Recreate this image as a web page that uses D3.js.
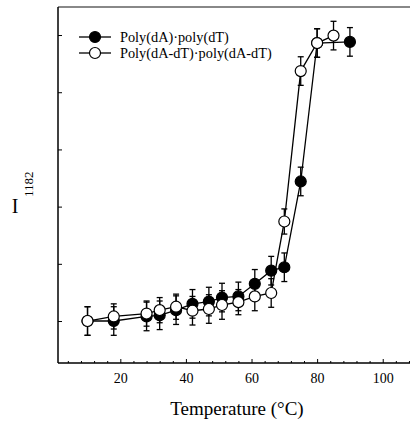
<!DOCTYPE html>
<html>
<head>
<meta charset="utf-8">
<script src="https://cdn.jsdelivr.net/npm/d3@7"></script>
<style>
  body { margin: 0; background: #fff; }
  svg, svg text { font-family: "Liberation Serif", "DejaVu Serif", serif; }
</style>
</head>
<body>
<div id="chart"></div>
<script>
'use strict';

// temperatures (°C) and I1182 values
var tempsA = [10, 18, 28, 32, 37, 42, 47, 51, 56, 61, 66, 70, 75, 80, 90];
var valuesA = [0.0, 0.0, 0.08, 0.1, 0.19, 0.3, 0.34, 0.41, 0.43, 0.65, 0.88, 0.94, 2.44, 4.86, 4.88];
var errorsA = [0.25, 0.25, 0.25, 0.25, 0.25, 0.25, 0.25, 0.25, 0.25, 0.25, 0.25, 0.25, 0.25, 0.25, 0.25];

var tempsB = [10, 18, 28, 32, 37, 42, 47, 51, 56, 61, 66, 70, 75, 80, 85];
var valuesB = [0.0, 0.08, 0.13, 0.19, 0.25, 0.18, 0.21, 0.28, 0.33, 0.43, 0.49, 1.74, 4.37, 4.86, 4.99];
var errorsB = [0.25, 0.22, 0.22, 0.22, 0.22, 0.25, 0.25, 0.25, 0.22, 0.25, 0.25, 0.22, 0.25, 0.25, 0.25];

var seriesNames = ["Poly(dA)\u00b7poly(dT)", "Poly(dA-dT)\u00b7poly(dA-dT)"];
var xTickValues = [20, 40, 60, 80, 100];
var yTickValues = [0, 1, 2, 3, 4, 5];

var svgWidth = 410, svgHeight = 421;
var margin = { top: 7, left: 58, bottom: 58 };
var plotBottom = svgHeight - margin.bottom; // 363

var svg = d3.select("#chart").append("svg")
  .attr("width", svgWidth)
  .attr("height", svgHeight);

var x = d3.scaleLinear().domain([1, 110]).range([margin.left, margin.left + 109 * 3.28]);
var y = d3.scaleLinear().domain([-0.734, 5.49]).range([plotBottom, margin.top]);

// top frame line (grey)
svg.append("line")
  .attr("x1", margin.left).attr("x2", svgWidth)
  .attr("y1", margin.top).attr("y2", margin.top)
  .attr("stroke", "#888").attr("stroke-width", 2);

// x axis with inward ticks
var minorX = d3.range(4, 110, 4).filter(function(d) { return xTickValues.indexOf(d) < 0; });
svg.append("g")
  .attr("transform", "translate(0," + plotBottom + ")")
  .call(d3.axisBottom(x).tickValues(minorX).tickSize(-2).tickFormat(""))
  .call(function(g) { g.select(".domain").remove(); });

var xAxisG = svg.append("g")
  .attr("transform", "translate(0," + plotBottom + ")")
  .call(d3.axisBottom(x).tickValues(xTickValues).tickSize(-4).tickPadding(10));
xAxisG.attr("font-family", null).attr("font-size", null);
xAxisG.select(".domain").attr("d", "M" + margin.left + ",0H" + svgWidth).attr("stroke-width", 1.5);
xAxisG.selectAll("text")
  .style("font-size", "14px")
  .attr("fill", "#000");

// y axis, ticks only
var yAxisG = svg.append("g")
  .attr("transform", "translate(" + margin.left + ",0)")
  .call(d3.axisLeft(y).tickValues(yTickValues).tickSize(-4).tickFormat(""));
yAxisG.select(".domain").attr("d", "M0," + margin.top + "V" + plotBottom).attr("stroke-width", 1.5);

// axis titles
svg.append("text")
  .attr("x", 237).attr("y", 415)
  .attr("text-anchor", "middle")
  .attr("font-size", 19)
  .text("Temperature (\u00b0C)");

svg.append("text")
  .attr("x", 15).attr("y", 213)
  .attr("text-anchor", "middle")
  .attr("font-size", 20)
  .text("I");

svg.append("text")
  .attr("transform", "translate(33,197) rotate(-90)")
  .attr("font-size", 13)
  .text("1182");

function drawSeries(temps, values, errors, fill) {
  var pts = temps.map(function(t, i) { return { t: t, v: values[i], e: errors[i] }; });
  var g = svg.append("g");

  g.append("path")
    .datum(pts)
    .attr("fill", "none")
    .attr("stroke", "#000")
    .attr("stroke-width", 1.3)
    .attr("d", d3.line()
      .x(function(d) { return x(d.t); })
      .y(function(d) { return y(d.v); }));

  var err = g.selectAll(".err").data(pts).enter().append("g").attr("class", "err");
  err.append("line")
    .attr("x1", function(d) { return x(d.t); })
    .attr("x2", function(d) { return x(d.t); })
    .attr("y1", function(d) { return y(d.v - d.e); })
    .attr("y2", function(d) { return y(d.v + d.e); })
    .attr("stroke", "#000").attr("stroke-width", 1.3);
  [-1, 1].forEach(function(s) {
    err.append("line")
      .attr("x1", function(d) { return x(d.t) - 3; })
      .attr("x2", function(d) { return x(d.t) + 3; })
      .attr("y1", function(d) { return y(d.v + s * d.e); })
      .attr("y2", function(d) { return y(d.v + s * d.e); })
      .attr("stroke", "#000").attr("stroke-width", 1.3);
  });

  g.selectAll("circle").data(pts).enter().append("circle")
    .attr("cx", function(d) { return x(d.t); })
    .attr("cy", function(d) { return y(d.v); })
    .attr("r", 5.5)
    .attr("fill", fill)
    .attr("stroke", "#000")
    .attr("stroke-width", 1.2);
}

drawSeries(tempsA, valuesA, errorsA, "#000");
drawSeries(tempsB, valuesB, errorsB, "#fff");

// legend
var legend = svg.append("g");
[0, 1].forEach(function(i) {
  var ly = 37 + i * 16;
  legend.append("line")
    .attr("x1", 79).attr("x2", 111)
    .attr("y1", ly).attr("y2", ly)
    .attr("stroke", "#000").attr("stroke-width", 1.3);
  legend.append("circle")
    .attr("cx", 95).attr("cy", ly).attr("r", 5.5)
    .attr("fill", i == 0 ? "#000" : "#fff")
    .attr("stroke", "#000").attr("stroke-width", 1.2);
  legend.append("text")
    .attr("x", 120).attr("y", ly)
    .attr("dy", "0.35em")
    .attr("font-size", 14.3)
    .text(seriesNames[i]);
});
</script>
</body>
</html>
